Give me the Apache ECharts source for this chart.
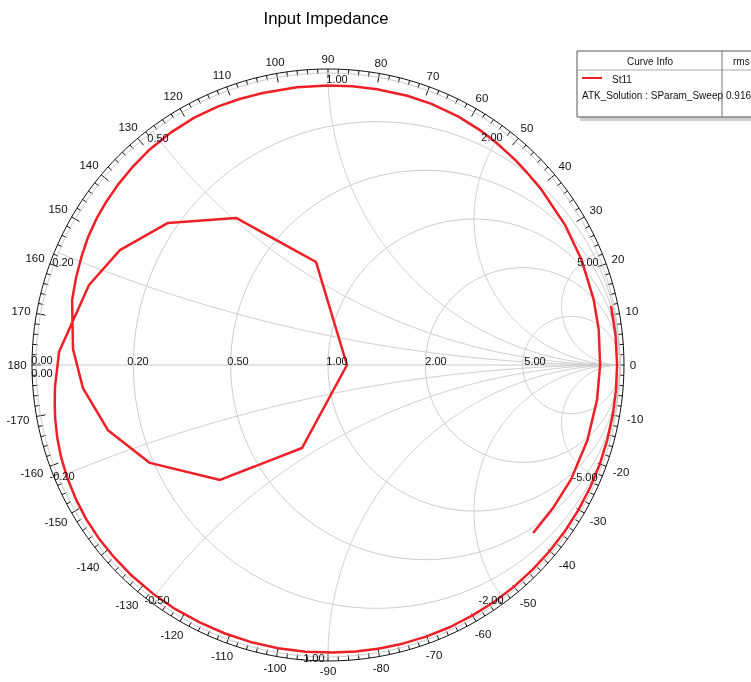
<!DOCTYPE html>
<html>
<head>
<meta charset="utf-8">
<title>Input Impedance</title>
<script src="https://cdn.jsdelivr.net/npm/echarts@6/dist/echarts.min.js"></script>
<style>
  html, body { margin: 0; padding: 0; background: #ffffff; }
  #chart { width: 751px; height: 682px; will-change: transform; }
</style>
</head>
<body>
<div id="chart"></div>
<script>
// S11 trace in sweep order: reflection coefficient magnitude and phase (degrees)
const s11Mag = [
  0.908, 0.913, 0.920, 0.925, 0.929, 0.932, 0.935, 0.937, 0.940, 0.943,
  0.946, 0.948, 0.951, 0.955, 0.958, 0.961, 0.962, 0.961, 0.959, 0.958,
  0.957, 0.957, 0.958, 0.960, 0.962, 0.963, 0.961, 0.958, 0.953, 0.948,
  0.943, 0.938, 0.931, 0.922, 0.913, 0.904,
  0.875, 0.843, 0.786, 0.696, 0.540, 0.298, 0.065, 0.355, 0.594, 0.733,
  0.814, 0.863, 0.922, 0.938,
  0.945, 0.952, 0.960, 0.967, 0.973, 0.978, 0.982, 0.984, 0.985, 0.986,
  0.986, 0.986, 0.985, 0.985, 0.985, 0.985, 0.985, 0.985, 0.986, 0.987,
  0.988, 0.989, 0.990, 0.990, 0.991, 0.991, 0.991, 0.991, 0.991, 0.991,
  0.991, 0.991, 0.990, 0.990, 0.990, 0.990, 0.990, 0.990
];
const s11Phase = [
  -39.3, -32.4, -25.2, -16.1, -7.4, 0.0, 7.4, 13.8, 22.5, 30.6,
  39.5, 44.0, 47.9, 53.0, 57.0, 62.4, 68.4, 73.6, 79.9, 85.0,
  90.0, 96.4, 103.5, 108.2, 113.0, 118.4, 124.0, 129.6, 134.5, 139.4,
  143.5, 147.6, 152.0, 156.3, 161.0, 165.8,
  176.4, -174.6, -163.5, -151.2, -133.2, -107.4, 0.0, 96.6, 122.0, 138.4,
  151.1, 161.5, 177.2, -175.4,
  -172, -169, -165, -161, -156.5, -152, -147.5, -143, -138, -133,
  -127.5, -122, -116.5, -111, -105.5, -100, -94.5, -89, -84.5, -80,
  -75, -70, -65, -60, -55, -50, -45, -40, -35, -30,
  -25, -20, -15, -10, -5, 0, 6, 11.8
];

// Smith chart grid values (normalised impedance)
const resistanceValues = [0.2, 0.5, 1, 2, 5];
const reactanceValues = [0.2, 0.5, 1, 2, 5];
const resistanceLabels = ['0.00', '0.20', '0.50', '1.00', '2.00', '5.00'];
const reactanceLabels = ['0.20', '0.50', '1.00', '2.00', '5.00'];
const reactanceNegLabels = ['-0.20', '-0.50', '-1.00', '-2.00', '-5.00'];

// Phase scale around the rim (degrees)
const phaseMin = 0, phaseMax = 360, phaseStep = 10, phaseMinorSplit = 5;

// Curve info table
const chartTitle = 'Input Impedance';
const tableHeaders = ['Curve Info', 'rms'];
const curveName = 'St11';
const curveSource = 'ATK_Solution : SParam_Sweep';
const curveRms = '0.916';

// ---- layout ----
const CX = 328, CY = 365;       // chart centre (px)
const RING_R = 296;             // rim radius (px)
const UNIT_R = 292;             // |Gamma| = 1 radius (px)
const FONT = '"Liberation Sans", Arial, sans-serif';
const GRID_COLOR = '#cccccc';
const TRACE_COLOR = '#ee1f26';
const TEXT_COLOR = '#111111';

function wrap(a) { a = a % 360; return a < 0 ? a + 360 : a; }
function toPolar(re, im) { return [Math.hypot(re, im), wrap(Math.atan2(im, re) * 180 / Math.PI)]; }
function gammaOfZ(r, x) {
  const d = (r + 1) * (r + 1) + x * x;
  return [(r * r - 1 + x * x) / d, 2 * x / d];
}

// constant-resistance circles
function resistanceCircle(r) {
  const c = r / (1 + r), rho = 1 / (1 + r), pts = [];
  for (let k = 0; k <= 180; k++) {
    const phi = k * 2 * Math.PI / 180;
    pts.push(toPolar(c + rho * Math.cos(phi), rho * Math.sin(phi)));
  }
  return pts;
}
// constant-reactance arcs, from the rim to the open-circuit point
function reactanceArc(x) {
  const pts = [];
  for (let k = 0; k < 400; k++) {
    const r = Math.tan(k / 400 * Math.PI / 2);
    const g = gammaOfZ(r, x);
    pts.push(toPolar(g[0], g[1]));
  }
  pts.push([1, x > 0 ? 0 : 360]);
  return pts;
}
function unitCircle() {
  const pts = [];
  for (let k = 0; k <= 180; k++) pts.push([1, k * 2]);
  return pts;
}

const gridSeries = [];
function addGrid(data) {
  gridSeries.push({
    type: 'line', coordinateSystem: 'polar', polarIndex: 0,
    data: data, symbol: 'none', silent: true, animation: false, z: 1,
    lineStyle: { color: GRID_COLOR, width: 1 }
  });
}
addGrid(unitCircle());
addGrid([[1, 180], [0, 0], [1, 0]]);
resistanceValues.forEach(r => addGrid(resistanceCircle(r)));
reactanceValues.forEach(x => { addGrid(reactanceArc(x)); addGrid(reactanceArc(-x)); });

// trace
const traceData = s11Mag.map((m, i) => [m, wrap(s11Phase[i])]);
const TRACE_INDEX = gridSeries.length;

// grid label anchors in (|Gamma|, phase) with pixel offsets
const gridLabelDefs = [];
const rLabelOffsets = [[6, -5], [5, -4], [7, -4], [9, -4], [11, -4], [12, -4]];
[0].concat(resistanceValues).forEach((r, i) => {
  const g = (r - 1) / (r + 1);
  gridLabelDefs.push({ at: [Math.abs(g), g < 0 ? 180 : 0], text: resistanceLabels[i], offset: rLabelOffsets[i] });
});
gridLabelDefs.push({ at: [1, 180], text: resistanceLabels[0], offset: [6, 8] });
const xPosOffsets = [[4.5, 9], [5, 7], [9, 6], [-11, 6], [-9.5, 9]];
const xNegOffsets = [[3.5, -1], [4, 1], [-16, 1], [-12, 1], [-12.5, 0]];
reactanceValues.forEach((x, i) => {
  const ang = 180 - 2 * Math.atan(x) * 180 / Math.PI;
  gridLabelDefs.push({ at: [1, ang], text: reactanceLabels[i], offset: xPosOffsets[i] });
  gridLabelDefs.push({ at: [1, 360 - ang], text: reactanceNegLabels[i], offset: xNegOffsets[i] });
});

// rim phase labels, just outside the rim (radius given in px)
const rimLabelDefs = [];
for (let v = phaseMin; v < phaseMax; v += phaseStep) {
  const txt = String(v > 180 ? v - 360 : v);
  const th = v * Math.PI / 180;
  const w = txt.length * 6.1, h = 8;
  const rad = 302 + Math.abs(Math.cos(th)) * w / 2 + Math.abs(Math.sin(th)) * h / 2;
  rimLabelDefs.push({ at: [rad / UNIT_R, v], text: txt, offset: [0, 0] });
}

const baseGraphic = [
  { type: 'text', x: 326, y: 18, z: 10,
    style: { text: chartTitle, fill: '#000000', font: '16.8px ' + FONT, textAlign: 'center', textVerticalAlign: 'middle' } },
  // curve info table
  { type: 'rect', z: 9, shape: { x: 580, y: 117, width: 180, height: 4 }, style: { fill: '#cfcfcf' } },
  { type: 'rect', z: 10, shape: { x: 577, y: 51, width: 190, height: 66 },
    style: { fill: '#ffffff', stroke: '#555555', lineWidth: 1 } },
  { type: 'line', z: 11, shape: { x1: 577, y1: 70, x2: 760, y2: 70 }, style: { stroke: '#aaaaaa', lineWidth: 1 } },
  { type: 'line', z: 11, shape: { x1: 722, y1: 51, x2: 722, y2: 117 }, style: { stroke: '#777777', lineWidth: 1 } },
  { type: 'text', x: 650, y: 61, z: 12,
    style: { text: tableHeaders[0], fill: TEXT_COLOR, font: '10px ' + FONT, textAlign: 'center', textVerticalAlign: 'middle' } },
  { type: 'text', x: 733, y: 61, z: 12,
    style: { text: tableHeaders[1], fill: TEXT_COLOR, font: '10px ' + FONT, textAlign: 'left', textVerticalAlign: 'middle' } },
  { type: 'line', z: 12, shape: { x1: 582, y1: 78, x2: 602, y2: 78 }, style: { stroke: TRACE_COLOR, lineWidth: 2 } },
  { type: 'text', x: 612, y: 79, z: 12,
    style: { text: curveName, fill: TEXT_COLOR, font: '10px ' + FONT, textAlign: 'left', textVerticalAlign: 'middle' } },
  { type: 'text', x: 582, y: 95, z: 12,
    style: { text: curveSource, fill: TEXT_COLOR, font: '10px ' + FONT, textAlign: 'left', textVerticalAlign: 'middle' } },
  { type: 'text', x: 726, y: 95, z: 12,
    style: { text: curveRms, fill: TEXT_COLOR, font: '10px ' + FONT, textAlign: 'left', textVerticalAlign: 'middle' } }
];

const option = {
  backgroundColor: '#ffffff',
  animation: false,
  polar: { center: [CX, CY], radius: RING_R },
  radiusAxis: {
    type: 'value', min: 0, max: RING_R / UNIT_R,
    axisLine: { show: false }, axisTick: { show: false }, axisLabel: { show: false }, splitLine: { show: false }
  },
  angleAxis: {
    type: 'value', min: phaseMin, max: phaseMax, interval: phaseStep,
    startAngle: 0, clockwise: false,
    axisLine: { show: true, lineStyle: { color: '#111111', width: 1 } },
    axisTick: { show: true, inside: true, length: 9, lineStyle: { color: '#111111', width: 1 } },
    minorTick: { show: true, splitNumber: phaseMinorSplit, length: 5, lineStyle: { color: '#111111', width: 1 } },
    axisLabel: { show: false },
    splitLine: { show: false }, minorSplitLine: { show: false }
  },
  series: gridSeries.concat([
    {
      name: curveName, type: 'line', coordinateSystem: 'polar',
      data: traceData, symbol: 'none', z: 3,
      lineStyle: { color: TRACE_COLOR, width: 2.5, join: 'round' }
    }
  ]),
  graphic: baseGraphic
};

const chart = echarts.init(document.getElementById('chart'), null, { renderer: 'svg' });
chart.setOption(option);

// place grid and rim labels through the polar coordinate system
function labelTexts(defs, size) {
  return defs.map(d => {
    const p = chart.convertToPixel({ seriesIndex: TRACE_INDEX }, d.at);
    return {
      type: 'text', z: 8, silent: true,
      x: Math.round(p[0] + d.offset[0]), y: Math.round(p[1] + d.offset[1]),
      style: { text: d.text, fill: TEXT_COLOR, font: size + 'px ' + FONT,
               textAlign: 'center', textVerticalAlign: 'middle' }
    };
  });
}
chart.setOption({
  graphic: baseGraphic.concat(labelTexts(gridLabelDefs, 11), labelTexts(rimLabelDefs, 11.5))
});
</script>
</body>
</html>
